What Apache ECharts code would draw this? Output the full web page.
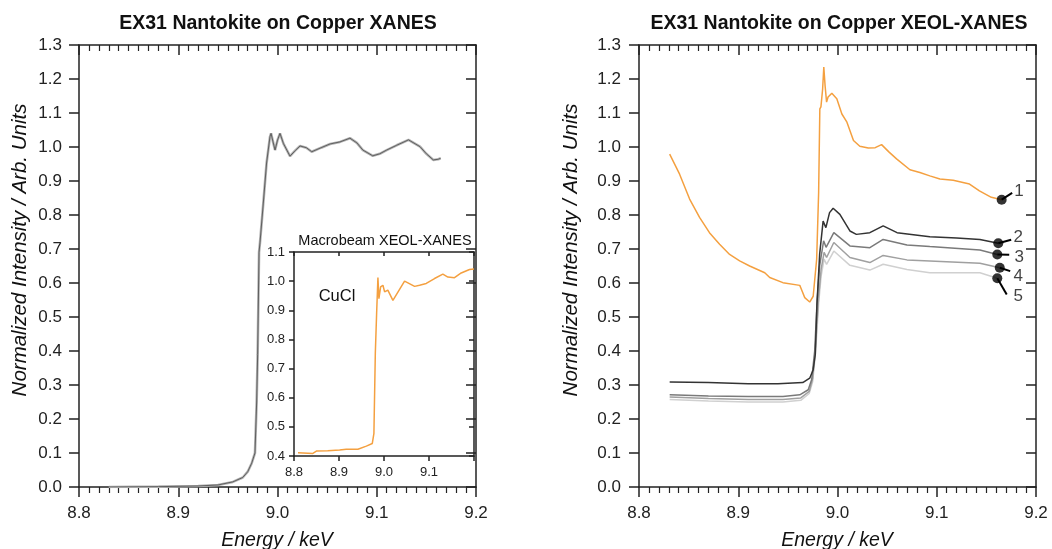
<!DOCTYPE html>
<html>
<head>
<meta charset="utf-8">
<script src="https://cdn.jsdelivr.net/npm/echarts@6/dist/echarts.min.js"></script>
<style>
html,body{margin:0;padding:0;background:#fff;}
#c{width:1052px;height:549px;}
</style>
</head>
<body>
<div id="c"></div>
<script>
// ---------- DATA ----------
// Left panel: EX31 XANES (Energy keV, normalized intensity)
var xanesE = [8.830, 8.880, 8.920, 8.940, 8.955, 8.965, 8.970, 8.974, 8.9773, 8.979, 8.980, 8.9814, 8.9824, 8.9857, 8.989, 8.9924, 8.9935, 8.9955, 8.9975, 9.0000, 9.0025, 9.0060, 9.0126, 9.0180, 9.0227, 9.0290, 9.0345, 9.0440, 9.053, 9.063, 9.073, 9.080, 9.086, 9.096, 9.103, 9.110, 9.120, 9.132, 9.1436, 9.150, 9.157, 9.162, 9.1644];
var xanesV = [0.000, 0.001, 0.003, 0.006, 0.015, 0.028, 0.045, 0.070, 0.100, 0.250, 0.390, 0.690, 0.720, 0.835, 0.953, 1.030, 1.040, 1.015, 0.991, 1.020, 1.040, 1.010, 0.973, 0.990, 1.003, 0.998, 0.986, 0.998, 1.009, 1.015, 1.026, 1.012, 0.991, 0.974, 0.980, 0.991, 1.005, 1.021, 1.001, 0.980, 0.962, 0.964, 0.967];

// Inset: Macrobeam XEOL-XANES, CuCl
var cuclE = [8.8089, 8.842, 8.8497, 8.875, 8.9014, 8.916, 8.942, 8.9607, 8.974, 8.9776, 8.9807, 8.9836, 8.9865, 8.9887, 8.9925, 8.9976, 9.0014, 9.0085, 9.0198, 9.0457, 9.068, 9.079, 9.0939, 9.1123, 9.1308, 9.1419, 9.1567, 9.1716, 9.19, 9.2];
var cuclV = [0.411, 0.409, 0.417, 0.418, 0.4206, 0.423, 0.423, 0.434, 0.443, 0.478, 0.752, 0.889, 1.012, 0.940, 0.980, 0.986, 0.963, 0.969, 0.934, 1.000, 0.982, 0.986, 0.992, 1.009, 1.024, 1.014, 1.012, 1.028, 1.040, 1.042];

// Right panel: XEOL-XANES curves 1..5
var s1E = [8.8309, 8.8409, 8.851, 8.861, 8.871, 8.8812, 8.8913, 8.9014, 8.9115, 8.9267, 8.9317, 8.945, 8.962, 8.9637, 8.967, 8.972, 8.9755, 8.979, 8.981, 8.9822, 8.9833, 8.9850, 8.9862, 8.9875, 8.989, 8.9905, 8.9943, 8.9993, 9.0044, 9.0095, 9.0161, 9.0225, 9.031, 9.0380, 9.0444, 9.0520, 9.0595, 9.073, 9.083, 9.093, 9.1032, 9.1166, 9.133, 9.143, 9.155, 9.1654];
var s1V = [0.979, 0.920, 0.847, 0.793, 0.748, 0.714, 0.684, 0.665, 0.650, 0.630, 0.616, 0.601, 0.593, 0.581, 0.557, 0.544, 0.561, 0.670, 0.867, 1.112, 1.118, 1.170, 1.235, 1.180, 1.132, 1.147, 1.158, 1.142, 1.097, 1.073, 1.019, 1.002, 0.997, 0.998, 1.007, 0.985, 0.965, 0.933, 0.925, 0.915, 0.906, 0.902, 0.891, 0.871, 0.852, 0.845];

var s2E = [8.8309, 8.870, 8.910, 8.940, 8.965, 8.972, 8.9755, 8.9776, 8.9793, 8.982, 8.9855, 8.9883, 8.992, 8.9956, 9.0024, 9.0125, 9.019, 9.0326, 9.046, 9.060, 9.093, 9.120, 9.1435, 9.162];
var s2V = [0.309, 0.307, 0.304, 0.304, 0.307, 0.320, 0.345, 0.389, 0.537, 0.684, 0.782, 0.763, 0.807, 0.820, 0.802, 0.753, 0.743, 0.748, 0.768, 0.748, 0.736, 0.732, 0.728, 0.717];

var s3E = [8.8309, 8.870, 8.910, 8.945, 8.962, 8.9705, 8.974, 8.977, 8.9795, 8.982, 8.986, 8.9885, 8.9963, 9.0125, 9.0326, 9.046, 9.070, 9.093, 9.1435, 9.161];
var s3V = [0.271, 0.268, 0.266, 0.266, 0.271, 0.286, 0.316, 0.400, 0.550, 0.650, 0.724, 0.705, 0.748, 0.709, 0.704, 0.728, 0.712, 0.707, 0.697, 0.684];

var s4E = [8.8309, 8.870, 8.910, 8.945, 8.963, 8.9715, 8.975, 8.978, 8.981, 8.9835, 8.9865, 8.989, 8.9963, 9.0125, 9.0326, 9.046, 9.070, 9.093, 9.1435, 9.1635];
var s4V = [0.265, 0.260, 0.257, 0.257, 0.262, 0.281, 0.320, 0.420, 0.560, 0.640, 0.690, 0.675, 0.719, 0.675, 0.660, 0.681, 0.668, 0.665, 0.658, 0.645];

var s5E = [8.8309, 8.870, 8.910, 8.945, 8.963, 8.9715, 8.975, 8.978, 8.981, 8.9835, 8.9865, 8.989, 8.9963, 9.0125, 9.0326, 9.046, 9.070, 9.093, 9.1435, 9.161];
var s5V = [0.257, 0.253, 0.250, 0.250, 0.255, 0.275, 0.310, 0.400, 0.540, 0.620, 0.670, 0.655, 0.694, 0.652, 0.638, 0.655, 0.640, 0.630, 0.630, 0.614];

// Curve labels and their annotation anchors (data coords)
var curveLabels = ['1', '2', '3', '4', '5'];
var leaderEndE = [9.176, 9.175, 9.173, 9.174, 9.1705];
var leaderEndV = [0.865, 0.727, 0.683, 0.635, 0.566];
var labelE = [9.1829, 9.1821, 9.1831, 9.1821, 9.1821];
var labelV = [0.871, 0.734, 0.675, 0.619, 0.561];

// ---------- CHART ----------
var FONT = 'Liberation Sans, Arial, Helvetica, sans-serif';
var AX = '#222';
var ORANGE = '#f4a040';

function zip(a, b) { return a.map(function (v, i) { return [v, b[i]]; }); }
function fmt1(v) { return (Math.round(v * 10) / 10).toFixed(1); }

function xAx(grid, pos, labels, tickLen, minorLen, fs, margin, hideMax) {
  return {
    type: 'value', gridIndex: grid, min: 8.8, max: 9.2, interval: 0.1, position: pos,
    axisLine: { show: true, onZero: false, lineStyle: { color: AX, width: 1.5 } },
    axisTick: { show: true, inside: pos === 'top', length: tickLen, lineStyle: { color: AX, width: 1.5 } },
    minorTick: { show: minorLen > 0, splitNumber: 10, length: minorLen, lineStyle: { color: AX, width: 1.2 } },
    splitLine: { show: false }, minorSplitLine: { show: false },
    axisLabel: { show: labels, margin: margin, fontSize: fs, color: AX, fontFamily: FONT,
      formatter: function (v) { return (hideMax && v > 9.15) ? '' : fmt1(v); } }
  };
}
function yAx(grid, pos, labels, min, max, tickLen, fs, margin) {
  return {
    type: 'value', gridIndex: grid, min: min, max: max, interval: 0.1, position: pos,
    axisLine: { show: true, onZero: false, lineStyle: { color: AX, width: 1.5 } },
    axisTick: { show: true, inside: pos === 'right', length: tickLen, lineStyle: { color: AX, width: 1.5 } },
    minorTick: { show: false }, splitLine: { show: false }, minorSplitLine: { show: false },
    axisLabel: { show: labels, margin: margin, fontSize: fs, color: AX, fontFamily: FONT, formatter: fmt1 }
  };
}

var grids = [
  { left: 79, top: 45, width: 397, height: 442, containLabel: false, outerBoundsMode: 'none' },
  { left: 639, top: 45, width: 397, height: 442, containLabel: false, outerBoundsMode: 'none' },
  { left: 294, top: 252, width: 180, height: 204, containLabel: false, outerBoundsMode: 'none',
    show: true, backgroundColor: '#fff', borderWidth: 0 }
];

var xAxes = [
  xAx(0, 'bottom', true, 10, 6, 17, 18, false),   // 0
  xAx(0, 'top', false, 10, 6, 17, 8, false),      // 1
  xAx(1, 'bottom', true, 10, 6, 17, 18, false),   // 2
  xAx(1, 'top', false, 10, 6, 17, 8, false),      // 3
  xAx(2, 'bottom', true, 5, 0, 13, 10, true),     // 4
  xAx(2, 'top', false, 4, 0, 13, 8, true)         // 5
];
var yAxes = [
  yAx(0, 'left', true, 0, 1.3, 10, 17, 17),       // 0
  yAx(0, 'right', false, 0, 1.3, 10, 17, 8),      // 1
  yAx(1, 'left', true, 0, 1.3, 10, 17, 18),       // 2
  yAx(1, 'right', false, 0, 1.3, 10, 17, 8),      // 3
  yAx(2, 'left', true, 0.4, 1.1, 5, 13, 9),       // 4
  yAx(2, 'right', false, 0.4, 1.1, 5, 13, 8)      // 5
];

function lineS(xi, yi, data, color, width, z) {
  return { type: 'line', xAxisIndex: xi, yAxisIndex: yi, data: data, symbol: 'none', showSymbol: false,
    lineStyle: { color: color, width: width }, itemStyle: { color: color }, z: z || 2, silent: true, animation: false };
}

var rightCurves = [[s1E, s1V, ORANGE], [s2E, s2V, '#333333'], [s3E, s3V, '#7a7a7a'], [s4E, s4V, '#a0a0a0'], [s5E, s5V, '#d0d0d0']];

var series = [
  lineS(0, 0, zip(xanesE, xanesV), '#b4b4b4', 2.6, 2),
  lineS(0, 0, zip(xanesE, xanesV), '#555555', 0.9, 3),
  lineS(4, 4, zip(cuclE, cuclV), ORANGE, 1.5, 5)
];
rightCurves.slice().reverse().forEach(function (c) {
  series.push(lineS(2, 2, zip(c[0], c[1]), c[2], 1.5, 3));
});
// leader lines
rightCurves.forEach(function (c, i) {
  var n = c[0].length - 1;
  series.push(lineS(2, 2, [[c[0][n], c[1][n]], [leaderEndE[i], leaderEndV[i]]], '#000', 2, 6));
});
// end markers
series.push({
  type: 'scatter', xAxisIndex: 2, yAxisIndex: 2, symbol: 'circle', symbolSize: 10, z: 7, silent: true, animation: false,
  itemStyle: { color: '#000' },
  data: rightCurves.map(function (c) { var n = c[0].length - 1; return [c[0][n], c[1][n]]; })
});
// curve number labels
series.push({
  type: 'scatter', xAxisIndex: 2, yAxisIndex: 2, symbolSize: 0, z: 8, silent: true, animation: false,
  data: labelE.map(function (e, i) { return { value: [e, labelV[i]], name: curveLabels[i] }; }),
  label: { show: true, position: 'inside', formatter: '{b}', fontSize: 17, color: '#111', fontFamily: FONT }
});

function txt(x, y, s, size, opts) {
  opts = opts || {};
  return { type: 'text', x: x, y: y, rotation: opts.rot || 0, z: 100,
    style: { text: s, fontSize: size, fontFamily: FONT, fontWeight: opts.bold ? 'bold' : 'normal',
      fontStyle: opts.italic ? 'italic' : 'normal', fill: opts.color || '#111',
      align: opts.align || 'center', verticalAlign: 'middle' } };
}

var graphics = [
  txt(278, 24, 'EX31 Nantokite on Copper XANES', 19.5, { bold: true }),
  txt(839, 24, 'EX31 Nantokite on Copper XEOL-XANES', 19.5, { bold: true }),
  txt(277, 541, 'Energy / keV', 19.5, { italic: true }),
  txt(837, 541, 'Energy / keV', 19.5, { italic: true }),
  txt(20, 250, 'Normalized Intensity / Arb. Units', 20.5, { italic: true, rot: Math.PI / 2 }),
  txt(571, 250, 'Normalized Intensity / Arb. Units', 20.5, { italic: true, rot: Math.PI / 2 }),
  txt(385, 241, 'Macrobeam XEOL-XANES', 14.5),
  txt(337, 296, 'CuCl', 16.5)
];

var chart = echarts.init(document.getElementById('c'), null, { renderer: 'canvas' });
chart.setOption({
  animation: false,
  backgroundColor: '#fff',
  grid: grids,
  xAxis: xAxes,
  yAxis: yAxes,
  series: series,
  graphic: graphics
});
</script>
</body>
</html>
